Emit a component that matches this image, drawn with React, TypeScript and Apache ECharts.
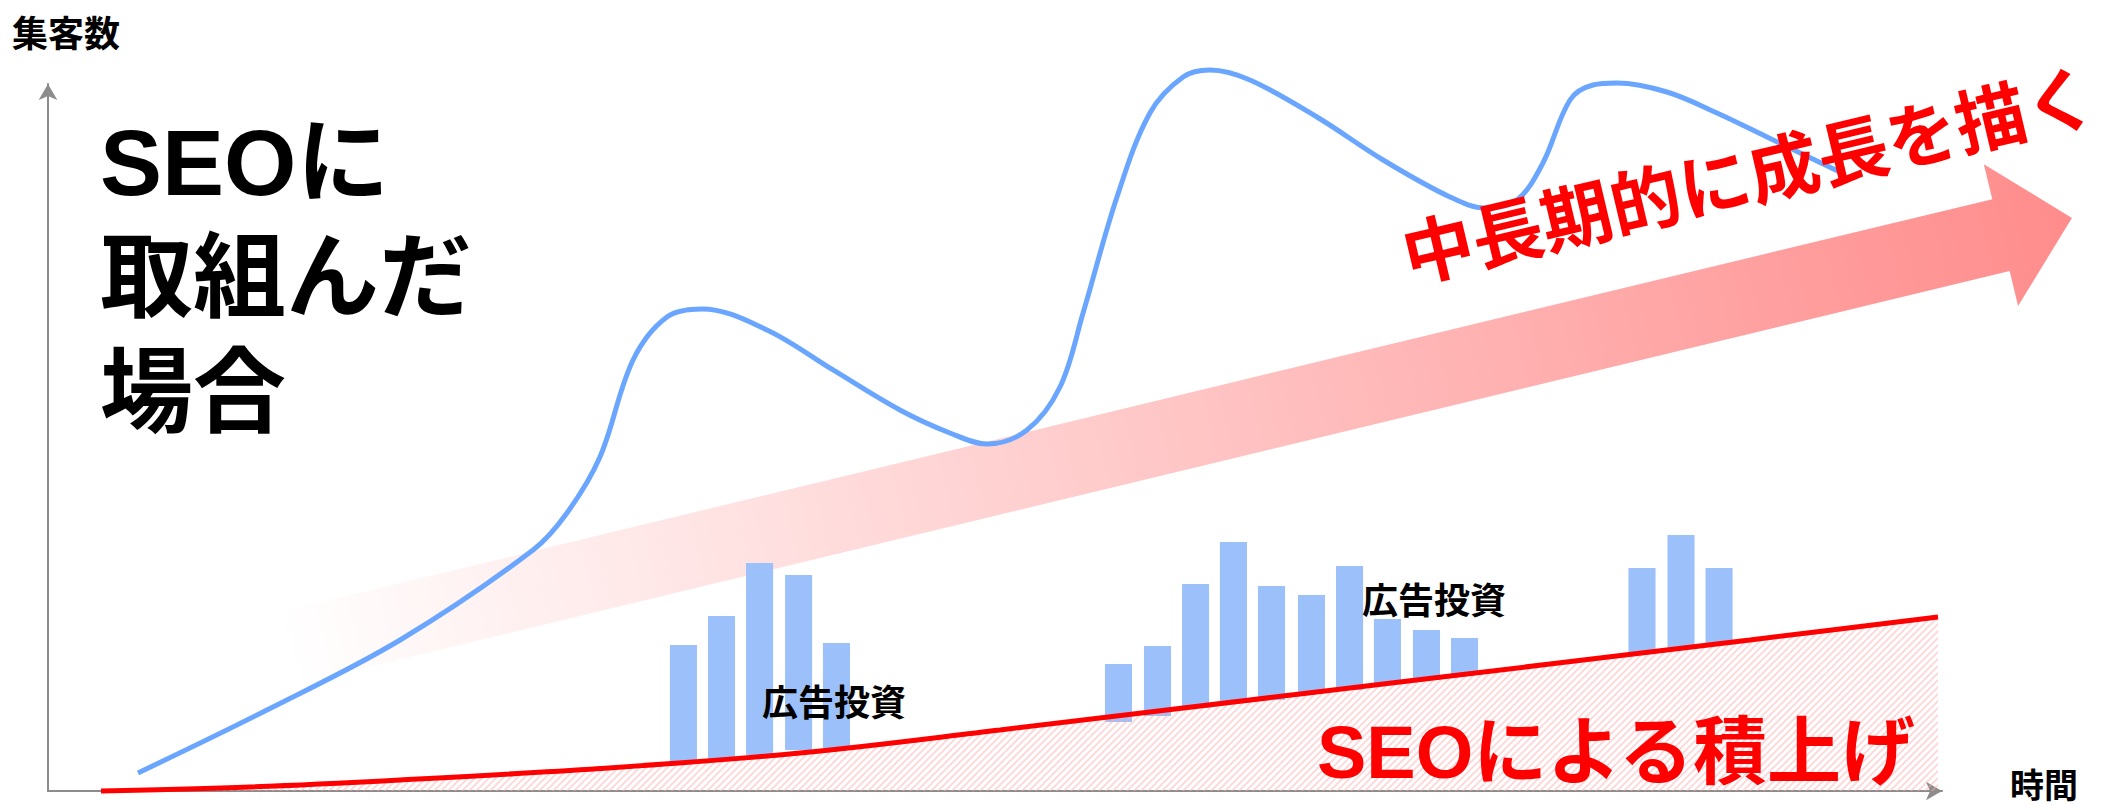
import { useEffect, useRef } from "react";
import * as echarts from "echarts";

// ---- data (x: time units 0..100, y: visitors units 0..100) ----
const blueX = [4.75, 11.56, 18.59, 25.61, 27.4, 29.14, 30.89, 32.68, 34.53, 37.96, 41.45, 44.98, 47.62, 49.58, 51.69, 53.43, 54.65, 56.44, 58.18, 59.93, 61.35, 63.46, 67.0, 70.49, 74.02, 75.87, 77.56, 78.93, 80.36, 81.57, 82.84, 85.48, 88.12, 90.76, 94.61];
const blueY = [2.55, 11.46, 21.36, 34.09, 39.32, 47.24, 60.96, 67.04, 68.18, 65.21, 59.55, 53.89, 50.64, 49.08, 51.06, 57.14, 67.61, 84.02, 95.9, 100.99, 101.98, 100.57, 95.33, 89.25, 84.02, 82.46, 83.59, 88.83, 97.74, 99.86, 100.14, 98.87, 95.9, 92.5, 87.55];

const seoX = [2.8, 10.67, 18.59, 29.14, 39.7, 50.26, 66.1, 79.3, 89.86, 99.79];
const seoY = [0, 0.57, 1.56, 3.18, 5.37, 8.63, 13.72, 17.96, 21.36, 24.61];

const adX = [33.55, 35.56, 37.57, 39.63, 41.63, 56.52, 58.58, 60.59, 62.59, 64.6, 66.71, 68.72, 70.72, 72.78, 74.79, 84.16, 86.22, 88.23];
const adTop = [20.65, 24.75, 32.25, 30.55, 20.93, 17.96, 20.51, 29.28, 35.22, 29.0, 27.72, 31.82, 24.33, 22.77, 21.64, 31.54, 36.21, 31.54];
const adBase = [4.1, 4.53, 5.09, 5.8, 6.09, 9.76, 10.61, 11.74, 12.45, 12.87, 13.86, 14.29, 15.13, 15.7, 16.41, 19.38, 20.08, 20.65];

const growthTail = [12.51, 20.08];
const growthTip = [106.86, 81.05];

const titleLines = ["SEOに", "取組んだ", "場合"];
const yAxisName = "集客数";
const xAxisName = "時間";
const adLabel = "広告投資";
const seoLabel = "SEOによる積上げ";
const growthLabel = "中長期的に成長を描く";

const FONT = '"Liberation Sans", "Noto Sans CJK JP", sans-serif';
const CJK = '"Noto Sans CJK JP", sans-serif';

function makeHatch(): HTMLCanvasElement {
  const s = 7;
  const c = document.createElement("canvas");
  c.width = s;
  c.height = s;
  const ctx = c.getContext("2d")!;
  ctx.strokeStyle = "rgba(255,170,170,0.5)";
  ctx.lineWidth = 1.6;
  ctx.beginPath();
  ctx.moveTo(-1, s + 1);
  ctx.lineTo(s + 1, -1);
  ctx.moveTo(-1, 1);
  ctx.lineTo(1, -1);
  ctx.moveTo(s - 1, s + 1);
  ctx.lineTo(s + 1, s - 1);
  ctx.stroke();
  return c;
}

export default function App() {
  const ref = useRef<HTMLDivElement>(null);

  useEffect(() => {
    document.body.style.margin = "0";
    if (!ref.current) return;
    const chart = echarts.init(ref.current, undefined, { renderer: "svg" });
    const hatch = makeHatch();

    const axisCommon = {
      type: "value" as const,
      min: 0,
      max: 100,
      axisLine: {
        show: true,
        symbol: ["none", "arrow"],
        symbolSize: [14, 16],
        lineStyle: { color: "#8c8c8c", width: 2 },
      },
      axisTick: { show: false },
      axisLabel: { show: false },
      splitLine: { show: false },
    };

    const option: any = {
      animation: false,
      backgroundColor: "#ffffff",
      grid: { left: 48, right: 170, top: 84, bottom: 19 },
      xAxis: { ...axisCommon },
      yAxis: { ...axisCommon },
      series: [
        {
          type: "custom",
          name: "growth",
          coordinateSystem: "cartesian2d",
          clip: false,
          silent: true,
          z: 1,
          encode: { x: [0, 2], y: [1, 3] },
          data: [[growthTail[0], growthTail[1], growthTip[0], growthTip[1]]],
          renderItem: (_p: any, api: any) => {
            const t = api.coord([api.value(0), api.value(1)]);
            const h = api.coord([api.value(2), api.value(3)]);
            const dx = h[0] - t[0];
            const dy = h[1] - t[1];
            const len = Math.hypot(dx, dy);
            const ux = dx / len;
            const uy = dy / len;
            const nx = -uy;
            const ny = ux;
            const body = 37;
            const head = 73;
            const headLen = 73;
            const bx = h[0] - ux * headLen;
            const by = h[1] - uy * headLen;
            const pts = [
              [t[0] + nx * body, t[1] + ny * body],
              [bx + nx * body, by + ny * body],
              [bx + nx * head, by + ny * head],
              [h[0], h[1]],
              [bx - nx * head, by - ny * head],
              [bx - nx * body, by - ny * body],
              [t[0] - nx * body, t[1] - ny * body],
            ];
            return {
              type: "polygon",
              shape: { points: pts },
              style: {
                fill: new echarts.graphic.LinearGradient(
                  t[0], t[1], h[0], h[1],
                  [
                    { offset: 0, color: "rgba(255,140,140,0)" },
                    { offset: 1, color: "rgba(255,140,140,1)" },
                  ],
                  true
                ),
              },
            };
          },
        },
        {
          type: "custom",
          name: "ads",
          coordinateSystem: "cartesian2d",
          clip: false,
          silent: true,
          z: 3,
          encode: { x: 0, y: [1, 2] },
          data: adX.map((x, i) => [x, adBase[i], adTop[i]]),
          renderItem: (_p: any, api: any) => {
            const x = api.value(0);
            const top = api.coord([x, api.value(2)]);
            const bot = api.coord([x, api.value(1)]);
            const w = api.size([1.43, 0])[0];
            return {
              type: "rect",
              shape: { x: top[0] - w / 2, y: top[1], width: w, height: bot[1] - top[1] },
              style: { fill: "#9cc0fa" },
            };
          },
        },
        {
          type: "line",
          name: "seo",
          z: 4,
          smooth: 0.35,
          showSymbol: false,
          silent: true,
          clip: false,
          data: seoX.map((x, i) => [x, seoY[i]]),
          lineStyle: { color: "#ff0000", width: 5 },
          areaStyle: {
            origin: "start",
            opacity: 1,
            color: { image: hatch, repeat: "repeat", imageWidth: 7, imageHeight: 7 },
          },
        },
        {
          type: "line",
          name: "visitors",
          z: 5,
          smooth: 0.35,
          showSymbol: false,
          silent: true,
          clip: false,
          data: blueX.map((x, i) => [x, blueY[i]]),
          lineStyle: { color: "#6aa6ff", width: 5 },
        },
      ],
      graphic: {
        elements: [
          {
            type: "text", x: 12, y: 31, z: 100,
            style: { text: yAxisName, font: `bold 36px ${CJK}`, fill: "#000", align: "left", verticalAlign: "middle" },
          },
          {
            type: "text", x: 2010, y: 783, z: 100,
            style: { text: xAxisName, font: `bold 34px ${CJK}`, fill: "#000", align: "left", verticalAlign: "middle" },
          },
          ...titleLines.map((t, i) => ({
            type: "text", x: 100, y: 163 + i * 115, z: 100,
            style: { text: t, font: `bold 93px ${FONT}`, fill: "#000", align: "left", verticalAlign: "middle" },
          })),
          {
            type: "text", x: 762, y: 700, z: 100,
            style: { text: adLabel, font: `bold 36px ${CJK}`, fill: "#000", align: "left", verticalAlign: "middle" },
          },
          {
            type: "text", x: 1362, y: 598, z: 100,
            style: { text: adLabel, font: `bold 36px ${CJK}`, fill: "#000", align: "left", verticalAlign: "middle" },
          },
          {
            type: "text", x: 1317, y: 752, z: 100,
            style: { text: seoLabel, font: `bold 74px ${FONT}`, fill: "#ff0000", align: "left", verticalAlign: "middle" },
          },
          {
            type: "text", x: 1748, y: 171, z: 100, rotation: 0.232,
            style: { text: growthLabel, font: `bold 71px ${CJK}`, fill: "#ff0000", align: "center", verticalAlign: "middle" },
          },
        ],
      },
    };

    chart.setOption(option);
    return () => chart.dispose();
  }, []);

  return <div ref={ref} style={{ width: 2112, height: 810 }} />;
}
